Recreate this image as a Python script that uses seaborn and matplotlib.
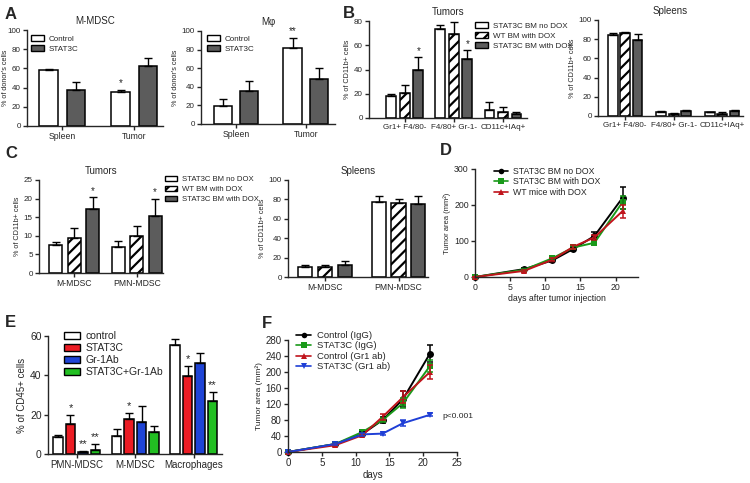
import numpy as np
import pandas as pd
import seaborn as sns
import matplotlib
matplotlib.use("Agg")
import matplotlib.pyplot as plt
from matplotlib.patches import Patch
from matplotlib.lines import Line2D

# ---- data ----
a_groups = ["Control", "STAT3C"]
a_cats = ["Spleen", "Tumor"]
a_mdsc_mean = [[58, 35], [37, 62]]
a_mdsc_err = [[1.5, 3], [9, 9]]
a_mdsc_stars = [(0, 1, "*")]
a_mac_mean = [[19, 82], [36, 48]]
a_mac_err = [[8, 11], [10, 12]]
a_mac_stars = [(0, 1, "**")]

b_groups = ["STAT3C BM no DOX", "WT BM with DOX", "STAT3C BM with DOX"]
b_cats = ["Gr1+ F4/80-", "F4/80+ Gr-1-", "CD11c+IAq+"]
b_tum_mean = [[18, 73, 7], [21, 69, 5], [40, 49, 3]]
b_tum_err = [[2, 4, 6], [6, 10, 4], [10, 7, 2]]
b_tum_stars = [(2, 0, "*"), (2, 1, "*")]
b_spl_mean = [[84, 4, 4], [86, 2.5, 2.5], [79, 5, 5]]
b_spl_err = [[2, 1, 0.5], [2, 1, 1.5], [6, 1, 1]]

c_cats = ["M-MDSC", "PMN-MDSC"]
c_tum_mean = [[7.5, 7], [9.5, 10], [17.2, 15.3]]
c_tum_err = [[0.7, 1.5], [2.7, 2.7], [3.1, 4.7]]
c_tum_stars = [(2, 0, "*"), (2, 1, "*")]
c_spl_mean = [[10, 77], [10, 76], [12.5, 75]]
c_spl_err = [[2, 6], [2.5, 4], [4.5, 8]]

days = [0, 7, 11, 14, 17, 21]
d_names = ["STAT3C BM no DOX", "STAT3C BM with DOX", "WT mice with DOX"]
d_mean = [[0, 22, 46, 78, 114, 220], [0, 20, 52, 82, 95, 208], [0, 17, 48, 84, 110, 183]]
d_err = [[0, 3, 4, 6, 10, 30], [0, 2, 3, 5, 6, 18], [0, 3, 4, 5, 8, 18]]

e_groups = ["control", "STAT3C", "Gr-1Ab", "STAT3C+Gr-1Ab"]
e_cats = ["PMN-MDSC", "M-MDSC", "Macrophages"]
e_mean = [[8.5, 9, 55.5], [15.5, 18, 39.5], [1.2, 16.5, 46.5], [2.2, 11.3, 27]]
e_err = [[1, 3.5, 3], [4.5, 3, 5.5], [0.5, 8, 5], [3, 3, 4.5]]
e_stars = [(1, 0, "*"), (2, 0, "**"), (3, 0, "**"), (1, 1, "*"), (1, 2, "*"), (3, 2, "**")]

f_names = ["Control (IgG)", "STAT3C (IgG)", "Control (Gr1 ab)", "STAT3C (Gr1 ab)"]
f_mean = [[0, 20, 45, 80, 132, 246], [0, 20, 50, 80, 122, 215], [0, 17, 42, 88, 137, 200], [0, 20, 44, 46, 72, 93]]
f_err = [[0, 3, 4, 8, 20, 22], [0, 3, 5, 6, 12, 15], [0, 3, 3, 7, 15, 17], [0, 2, 3, 3, 8, 4]]

# ---- style ----
sns.set_theme(style="ticks")
plt.rcParams["font.family"] = ["Liberation Sans", "DejaVu Sans"]
plt.rcParams.update({
    "axes.linewidth": 1.0,
    "xtick.major.size": 3, "ytick.major.size": 3,
    "xtick.major.width": 1.0, "ytick.major.width": 1.0,
    "xtick.major.pad": 1.5, "ytick.major.pad": 1.5,
    "hatch.linewidth": 1.6,
})

W, H = 750, 483
fig = plt.figure(figsize=(7.5, 4.83), dpi=100)
fig.patch.set_facecolor("white")

GRAY = "#5c5c5c"
RED, BLUE, GREEN = "#ec1c24", "#1f44d6", "#22bf22"


def px_axes(x0, x1, y_top, y_bot):
    return fig.add_axes([x0 / W, 1 - y_bot / H, (x1 - x0) / W, (y_bot - y_top) / H])


def fig_legend(ax, handles, labels, x, y, fs, **kw):
    opts = dict(loc="upper left", bbox_to_anchor=(x / W, 1 - y / H), bbox_transform=fig.transFigure,
                frameon=False, fontsize=fs, borderpad=0, borderaxespad=0, handletextpad=0.6,
                labelspacing=0.3)
    opts.update(kw)
    ax.legend(handles, labels, **opts)


def bar_panel(ax, cats, groups, means, errs, colors, hatches, width, gap, xlim, ylim, yticks,
              stars=(), fs=6.2, yfs=5.8, ylabel="", lfs=5.2, title=None, tfs=7, sfs=7):
    df = pd.DataFrame([(c, g, means[gi][ci]) for gi, g in enumerate(groups) for ci, c in enumerate(cats)],
                      columns=["cat", "grp", "val"])
    sns.barplot(data=df, x="cat", y="val", hue="grp", order=cats, hue_order=groups, palette=colors,
                saturation=1, width=width, gap=gap, edgecolor="black", linewidth=1.1,
                errorbar=None, legend=False, ax=ax)
    tops = {}
    for gi, (cont, hatch) in enumerate(zip(ax.containers, hatches)):
        for ci, bar in enumerate(cont):
            if hatch:
                bar.set_hatch(hatch)
            xc = bar.get_x() + bar.get_width() / 2
            h = bar.get_height()
            e = errs[gi][ci]
            ax.errorbar(xc, h, yerr=[[0], [e]], color="black", lw=1.0, capsize=3, capthick=1.0, zorder=1)
            tops[(gi, ci)] = (xc, h + e)
    for gi, ci, s in stars:
        xc, yt = tops[(gi, ci)]
        ax.text(xc, yt + ylim[1] * 0.015, s, ha="center", va="bottom", fontsize=sfs)
    ax.set_xlim(*xlim)
    ax.set_ylim(*ylim)
    ax.set_yticks(yticks)
    ax.set_xlabel("")
    ax.set_ylabel(ylabel, fontsize=lfs, labelpad=2)
    ax.tick_params(axis="x", labelsize=fs)
    ax.tick_params(axis="y", labelsize=yfs)
    if title:
        ax.set_title(title, fontsize=tfs, pad=4)
    sns.despine(ax=ax)


def line_panel(ax, names, means, errs, colors, markers, xlim, ylim, xticks, yticks, xlabel, fs=6, lfs=5.5):
    df = pd.DataFrame([(n, d, means[i][j]) for i, n in enumerate(names) for j, d in enumerate(days)],
                      columns=["grp", "day", "area"])
    sns.lineplot(data=df, x="day", y="area", hue="grp", style="grp", hue_order=names, style_order=names,
                 palette=colors, markers=markers, dashes=False, markersize=5, markeredgewidth=0,
                 linewidth=1.4, legend=False, ax=ax, clip_on=False)
    for i in range(len(names)):
        ax.errorbar(days, means[i], yerr=errs[i], fmt="none", ecolor=colors[i], elinewidth=1.1,
                    capsize=2.5, capthick=1.1, clip_on=False)
    ax.set_xlim(*xlim)
    ax.set_ylim(*ylim)
    ax.set_xticks(xticks)
    ax.set_yticks(yticks)
    ax.set_xlabel(xlabel, fontsize=fs, labelpad=1)
    ax.set_ylabel("Tumor area (mm²)", fontsize=lfs, labelpad=2)
    ax.tick_params(labelsize=fs)
    sns.despine(ax=ax)


# ---- panel A ----
ax = px_axes(27, 163, 30, 126)
bar_panel(ax, a_cats, a_groups, a_mdsc_mean, a_mdsc_err, ["white", GRAY], [None, None],
          0.76, 0.32, (-0.49, 1.40), (0, 100), range(0, 101, 20), a_mdsc_stars,
          ylabel="% of donor's cells", title="M-MDSC")
ax.yaxis.set_label_coords(-0.135, 0.5)
fig_legend(ax, [Patch(facecolor=c, edgecolor="black", lw=1) for c in ["white", GRAY]], a_groups,
           31, 35, 5.8, handlelength=1.6, handleheight=0.7)

ax = px_axes(201, 335, 31, 124)
bar_panel(ax, a_cats, a_groups, a_mac_mean, a_mac_err, ["white", GRAY], [None, None],
          0.75, 0.3, (-0.5, 1.42), (0, 100), range(0, 101, 20), a_mac_stars,
          ylabel="% of donor's cells", title="Mφ")
fig_legend(ax, [Patch(facecolor=c, edgecolor="black", lw=1) for c in ["white", GRAY]], a_groups,
           207, 35, 5.8, handlelength=1.6, handleheight=0.7)

# ---- panel B ----
b_cols = ["white", "white", GRAY]
b_hatch = [None, "///", None]
ax = px_axes(369, 527, 21, 118)
bar_panel(ax, b_cats, b_groups, b_tum_mean, b_tum_err, b_cols, b_hatch,
          0.825, 0.27, (-0.73, 2.49), (0, 80), range(0, 81, 20), b_tum_stars,
          ylabel="% of CD11b+ cells", title="Tumors", fs=5.8)
fig_legend(ax, [Patch(facecolor=c, edgecolor="black", hatch=h, lw=1) for c, h in zip(b_cols, b_hatch)],
           b_groups, 475, 22, 5.8, handlelength=1.6, handleheight=0.7)

ax = px_axes(598, 743, 20, 116)
bar_panel(ax, b_cats, b_groups, b_spl_mean, b_spl_err, b_cols, b_hatch,
          0.77, 0.22, (-0.56, 2.43), (0, 100), range(0, 101, 20),
          ylabel="% of CD11b+ cells", title="Spleens", fs=5.8)

# ---- panel C ----
ax = px_axes(39, 163, 180, 273)
bar_panel(ax, c_cats, b_groups, c_tum_mean, c_tum_err, b_cols, b_hatch,
          0.888, 0.3, (-0.56, 1.42), (0, 25), range(0, 26, 5), c_tum_stars,
          ylabel="% of CD11b+ cells", title="Tumors")
fig_legend(ax, [Patch(facecolor=c, edgecolor="black", hatch=h, lw=1) for c, h in zip(b_cols, b_hatch)],
           b_groups, 165, 176, 5.6, handlelength=1.6, handleheight=0.7)

ax = px_axes(288, 428, 180, 277)
bar_panel(ax, c_cats, b_groups, c_spl_mean, c_spl_err, b_cols, b_hatch,
          0.806, 0.29, (-0.5, 1.4), (0, 100), range(0, 101, 20),
          ylabel="% of CD11b+ cells", title="Spleens")

# ---- panel D ----
d_cols = ["black", "#1a9a1a", "#c0141c"]
d_marks = ["o", "s", "^"]
ax = px_axes(475, 638, 169, 277)
line_panel(ax, d_names, d_mean, d_err, d_cols, d_marks, (0, 23.2), (0, 300),
           range(0, 21, 5), range(0, 301, 100), "days after tumor injection", fs=6.3)
fig_legend(ax, [Line2D([], [], color=c, marker=m, ms=4, mew=0, lw=1.2) for c, m in zip(d_cols, d_marks)],
           d_names, 494, 167, 6.3, handlelength=1.6, labelspacing=0.15)

# ---- panel E ----
e_cols = ["white", RED, BLUE, GREEN]
ax = px_axes(48, 222, 336, 454)
bar_panel(ax, e_cats, e_groups, e_mean, e_err, e_cols, [None] * 4,
          0.85, 0.24, (-0.49, 2.48), (0, 60), range(0, 61, 20), e_stars,
          fs=7, yfs=7.5, ylabel="% of CD45+ cells", lfs=7, sfs=8)
fig_legend(ax, [Patch(facecolor=c, edgecolor="black", lw=1) for c in e_cols], e_groups,
           64, 331, 7.5, handlelength=1.5, handleheight=0.75, labelspacing=0.2)

# ---- panel F ----
f_cols = ["black", "#1a9a1a", "#c0141c", "#1f3fd6"]
f_marks = ["o", "s", "^", "v"]
ax = px_axes(288, 457, 340, 452)
line_panel(ax, f_names, f_mean, f_err, f_cols, f_marks, (0, 25), (0, 280),
           range(0, 26, 5), range(0, 281, 40), "days", fs=7, lfs=6)
ax.text(22.8, 90, "p<0.001", fontsize=6, va="center", ha="left")
fig_legend(ax, [Line2D([], [], color=c, marker=m, ms=4, mew=0, lw=1.2) for c, m in zip(f_cols, f_marks)],
           f_names, 296, 331, 6.8, handlelength=1.6, labelspacing=0.15)

# ---- panel letters ----
for letter, x, y in [("A", 5, 7), ("B", 343, 6), ("C", 5, 146), ("D", 440, 143), ("E", 5, 315), ("F", 262, 316)]:
    fig.text(x / W, 1 - y / H, letter, fontsize=12, fontweight="bold", va="top", ha="left")

fig.savefig("out.png", dpi=100, facecolor="white")
